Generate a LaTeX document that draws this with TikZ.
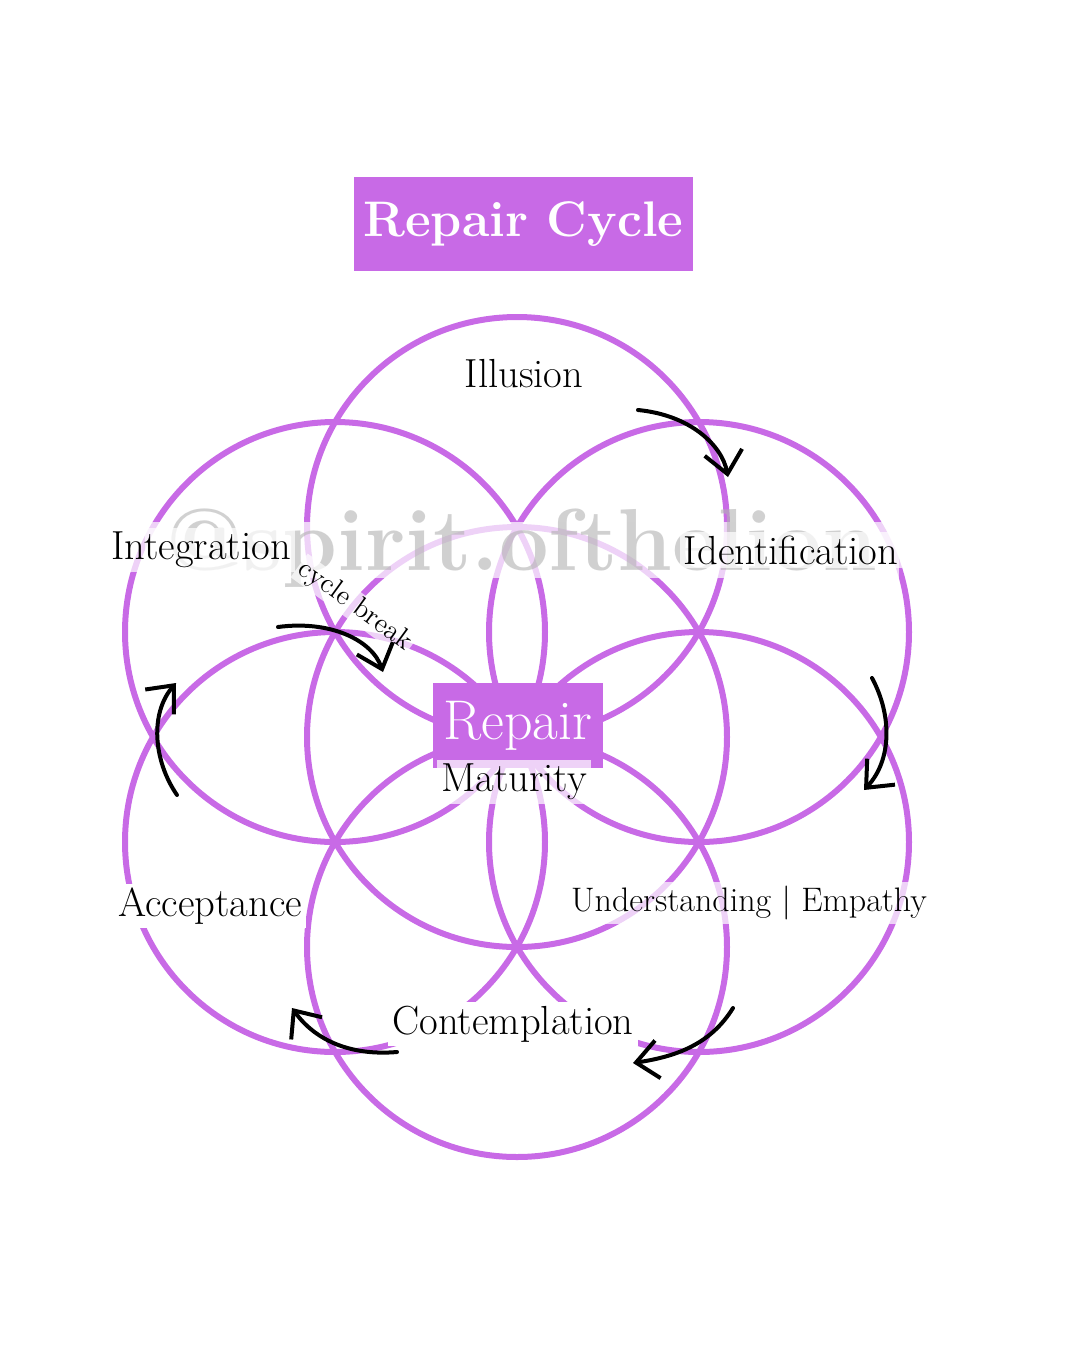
\documentclass[tikz,border=0pt]{standalone}
\usepackage{fontspec}
\usetikzlibrary{arrows.meta}
\definecolor{lilac}{RGB}{200,106,230}

\begin{document}
\begin{tikzpicture}[x=0.5pt, y=-0.5pt,
  ring/.style={draw=lilac, line width=3pt},
  lbl/.style={fill=white, fill opacity=.7, text opacity=1, inner sep=2pt,
    font=\fontsize{20.3}{23}\selectfont},
  plainlbl/.style={lbl, fill opacity=1},
  flow/.style={line width=2pt, line cap=round,
    -{Straight Barb[length=11pt, width=19pt, line width=2pt]}}]
  \useasboundingbox (0,0) rectangle (1080,1350);
  \foreach \cx/\cy in {517/737, 517/527, 699/632, 699/842, 517/947, 335/842, 335/632}
    \draw[ring] (\cx,\cy) circle[radius=210];
  \node(mark) at (522,550) [fill=white, fill opacity=.7, text=black!30, text opacity=.6,
    inner sep=0, minimum width=377pt, text height=24pt, text depth=4pt,
    font=\bfseries\fontsize{44}{44}\selectfont] {@spirit.ofthelion};
  \node(title) at (523.5,224) [fill=lilac, text=white, minimum width=169.5pt, minimum height=47pt,
    font=\bfseries\fontsize{25}{28}\selectfont] {Repair Cycle};
  \node(core) at (518,725.5) [fill=lilac, text=white, minimum width=85pt, minimum height=42.5pt,
    font=\fontsize{28}{30}\selectfont] {Repair};
  \node(mat)   at (514,782)  [lbl] {Maturity};
  \node(ill)   at (524,374)  [lbl] {Illusion};
  \node(ident) at (791,550)  [lbl] {Identification};
  \node(under) at (749,903)  [lbl, font=\fontsize{17}{20}\selectfont] {Understanding | Empathy};
  \node(cont)  at (513,1024) [plainlbl] {Contemplation};
  \node(acc)   at (210,906)  [plainlbl] {Acceptance};
  \node(integ) at (201,550)  [lbl] {Integration};
  \node(brk)   at (355,606)  [lbl, rotate=-36, inner sep=1pt, font=\fontsize{14}{16}\selectfont] {cycle break};
  \coordinate (s1) at (638,410);  \coordinate (e1) at (728,477);
  \coordinate (s2) at (872,678);  \coordinate (e2) at (864,790);
  \coordinate (s3) at (733,1008); \coordinate (e3) at (633,1063);
  \coordinate (s4) at (397,1052); \coordinate (e4) at (292,1008);
  \coordinate (s5) at (177,795);  \coordinate (e5) at (176,683);
  \coordinate (s6) at (278,627);  \coordinate (e6) at (383,672);
  \draw[flow] (s1) .. controls (690,415) and (722,445) .. (e1);
  \draw[flow] (s2) .. controls (892,715) and (892,760) .. (e2);
  \draw[flow] (s3) .. controls (712,1042) and (680,1056) .. (e3);
  \draw[flow] (s4) .. controls (350,1056) and (315,1040) .. (e4);
  \draw[flow] (s5) .. controls (153,760) and (150,713) .. (e5);
  \draw[flow] (s6) .. controls (330,620) and (372,640) .. (e6);
\end{tikzpicture}
\end{document}
